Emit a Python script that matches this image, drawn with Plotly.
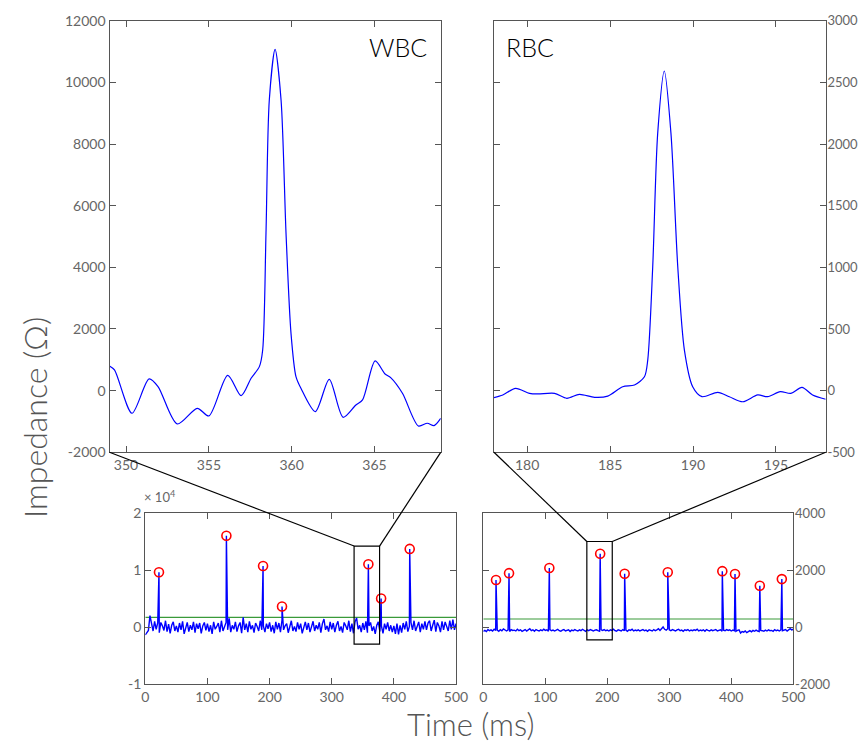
import plotly.graph_objects as go

# ---------------- data ----------------
# Top-left: WBC event detail (time ms, impedance ohm)
wbc_t = [349.0, 349.3, 350.36, 351.39, 351.93, 353.09, 354.3, 355.0, 356.14, 356.95, 357.55,
         358.05, 358.25, 358.45, 358.65, 359.0, 359.36, 359.66, 359.96, 360.26, 360.56, 361.43,
         362.27, 363.11, 363.88, 364.28, 365.04, 365.64, 365.98, 366.69, 367.65, 368.19, 368.6, 369.0]
wbc_v = [801, 671, -734, 380, 131, -1080, -572, -821, 498, -161, 401,
         779, 1320, 5100, 9427, 11070, 9427, 5100, 1860, 455, 77, -680,
         368, -864, -464, -302, 963, 541, 422, -86, -1145, -1058, -1134, -900]

# Top-right: RBC event detail
rbc_t = [177.97, 178.53, 179.3, 180.14, 180.64, 181.65, 182.39, 183.15, 184.06, 184.86, 185.76,
         186.47, 187.07, 187.27, 187.57, 187.87, 188.27, 188.67, 189.08, 189.48, 189.98, 190.54,
         191.49, 192.19, 193.0, 193.9, 194.5, 195.26, 195.9, 196.57, 197.21, 198.0]
rbc_v = [-57, -35, 19, -22, -27, -22, -62, -30, -54, -44, 32,
         46, 113, 248, 1005, 2086, 2592, 2086, 1005, 329, 32, -49,
         -14, -49, -90, -35, -49, -8, -22, 27, -35, -70]

# Bottom panels: sampled baseline every 2.5 ms from 0 to 500 ms
sample_step = 2.5
wbc_noise = [
    -1400, -1000, -600, 2000, 300, -700, 1000, -400, 700, -1000, 800, 200, -600, 1100, -800, 500, -1100, 300, 900, -700,
    200, -900, 700, -500, 1000, -1200, 100, 800, -800, 300, -500, 900, -1000, 600, -300, 700, -1100, 200, 800, -600,
    600, -800, 300, -1200, 900, -400, 100, 700, -900, 1100, -700, 200, 800, -500, 1500, -900, 300, -400, 900, -800,
    200, 800, -1100, 1700, -500, 600, -900, 1000, -400, 300, -1000, 700, 100, -700, 1100, -500, 200, -900, 600, -300,
    800, -800, 300, -1100, 900, -400, 700, -900, 1200, -500, 200, 600, -1000, 300, 1100, -700, 100, -800, 800, -400,
    600, -1100, 200, 900, -500, 700, -900, 100, 1000, -700, 300, -400, 800, -1000, 600, 1400, -500, 200, -800, 900,
    -400, 700, -900, 300, 1000, -700, 100, -1000, 800, 200, -500, 1100, -800, 600, -1100, 900, 1600, -400, 300, -900,
    700, -500, 1000, -1000, 200, 800, -700, 100, -1200, 300, 900, -800, 200, -1100, 600, -400, 800, -700, 300, -900,
    200, -1200, 600, -1300, 300, -1000, 700, -400, 1000, -800, 100, 800, -500, 1100, -700, 200, 900, -900, 600, -400,
    1000, -500, 700, 1100, -700, 300, 1200, -800, 800, 200, -900, 1000, -500, 900, 200, -700, 1100, -400, 1300, -500,
    600]
rbc_noise = [
    -150, -120, -160, -90, -130, -100, -140, -80, -120, -110, -150, -90, -130, -70, -120, -140, -100, -160, -90, -120,
    -110, -140, -80, -130, -100, -150, -120, -90, -140, -110, -60, -130, -100, -150, -90, -120, -140, -100, -130, -80,
    -120, -100, -150, -90, -130, -110, -140, -100, -80, -130, -150, -110, -90, -140, -120, -100, -160, -110, -130, -90,
    -120, -140, -100, -130, -80, -110, -150, -100, -130, -90, -120, -140, -110, -100, -130, -150, -100, -120, -90, -130,
    -110, -140, -100, -120, -80, -130, -150, -100, -120, -140, -90, -130, -110, -150, -100, -120, -80, -140, -110, -130,
    -100, -140, -120, -90, -130, -110, -150, -100, -120, -140, -90, -130, -100, -60, -120, -50, 0, -80, -110, -60,
    -100, -130, -90, -120, -140, -100, -80, -130, -110, -150, -100, -120, -90, -140, -110, -130, -100, -120, -80, -140,
    -110, -130, -100, -150, -90, -120, -140, -100, -130, -110, -90, -140, -120, -100, -150, -110, -130, -90, -120, -100,
    -140, -110, -130, -150, -120, -100, -210, -160, -180, -140, -200, -150, -130, -170, -120, -150, -110, -140, -160, -120,
    -130, -150, -110, -140, -100, -130, -120, -150, -90, -130, -110, -140, -100, -130, -120, -90, -140, -110, -60, -100,
    -80]

# detected peaks (time ms, impedance ohm)
wbc_peak_t = [22, 130.5, 189.5, 220, 359, 379.5, 425.5]
wbc_peak_v = [9600, 16000, 10700, 3600, 11000, 5000, 13700]
rbc_peak_t = [20.5, 41.5, 106.5, 188.5, 228, 297.5, 385.5, 406, 446, 481.5]
rbc_peak_v = [1650, 1890, 2070, 2570, 1870, 1920, 1960, 1860, 1450, 1680]

wbc_threshold = 1700
rbc_threshold = 280

# zoom boxes [t0, t1, v0, v1]
wbc_box = [336, 377, -3000, 14200]
rbc_box = [167, 208, -450, 3000]

# ---------------- helpers ----------------
def merge(noise, pk_t, pk_v):
    pts = [(i * sample_step, v) for i, v in enumerate(noise)]
    pts += list(zip(pk_t, pk_v))
    pts.sort()
    return [p[0] for p in pts], [p[1] for p in pts]

wbc_all_t, wbc_all_v = merge(wbc_noise, wbc_peak_t, wbc_peak_v)
rbc_all_t, rbc_all_v = merge(rbc_noise, rbc_peak_t, rbc_peak_v)

# page body has an 8px margin: work in page pixels, shifted by OFF
OFF = 8
W, H = 867 - 2 * OFF, 749 - 2 * OFF

def px(x):
    return (x - OFF) / W

def py(y):
    return 1 - (y - OFF) / H

dom = {
    "tl": ([px(109.5), px(440.7)], [py(452.3), py(20.7)]),
    "tr": ([px(494), px(825.7)], [py(452.3), py(20.7)]),
    "bl": ([px(145.3), px(456)], [py(684), py(513)]),
    "br": ([px(483.3), px(793.3)], [py(684), py(513)]),
}
rng = {
    "tl": ([349, 369], [-2000, 12000]),
    "tr": ([178, 198], [-500, 3000]),
    "bl": ([0, 500], [-10000, 20000]),
    "br": ([0, 500], [-2000, 4000]),
}

BLUE = "#0000ff"
AX = "#555555"
FONT = "Lato, Open Sans, sans-serif"

fig = go.Figure()
fig.add_trace(go.Scatter(x=wbc_t, y=wbc_v, mode="lines", line=dict(color=BLUE, width=1.2, shape="spline", smoothing=0.8),
                         xaxis="x", yaxis="y", showlegend=False))
fig.add_trace(go.Scatter(x=rbc_t, y=rbc_v, mode="lines", line=dict(color=BLUE, width=1.2, shape="spline", smoothing=0.8),
                         xaxis="x2", yaxis="y2", showlegend=False))
for ax, ay, tt, vv, pt, pv, thr in [("x3", "y3", wbc_all_t, wbc_all_v, wbc_peak_t, wbc_peak_v, wbc_threshold),
                                    ("x4", "y4", rbc_all_t, rbc_all_v, rbc_peak_t, rbc_peak_v, rbc_threshold)]:
    fig.add_trace(go.Scatter(x=[0, 500], y=[thr, thr], mode="lines", line=dict(color="#3a9a3a", width=1.2),
                             xaxis=ax, yaxis=ay, showlegend=False))
    fig.add_trace(go.Scatter(x=tt, y=vv, mode="lines", line=dict(color=BLUE, width=1.4),
                             xaxis=ax, yaxis=ay, showlegend=False))
    fig.add_trace(go.Scatter(x=pt, y=pv, mode="markers",
                             marker=dict(symbol="circle-open", color="#ff0000", size=9, line=dict(width=1.6, color="#ff0000")),
                             xaxis=ax, yaxis=ay, showlegend=False))

def axis_common():
    return dict(showline=True, linecolor=AX, linewidth=1.3, mirror="allticks", ticks="inside", ticklen=6,
                tickcolor=AX, tickwidth=1.3, showgrid=False, zeroline=False, automargin=False,
                tickfont=dict(family=FONT, size=14, color="#666666"))

names = {"tl": ("xaxis", "yaxis", "y", "x"), "tr": ("xaxis2", "yaxis2", "y2", "x2"),
         "bl": ("xaxis3", "yaxis3", "y3", "x3"), "br": ("xaxis4", "yaxis4", "y4", "x4")}
tick_x = {"tl": [350, 355, 360, 365], "tr": [180, 185, 190, 195],
          "bl": [0, 100, 200, 300, 400, 500], "br": [0, 100, 200, 300, 400, 500]}
tick_y = {"tl": [-2000, 0, 2000, 4000, 6000, 8000, 10000, 12000],
          "tr": [-500, 0, 500, 1000, 1500, 2000, 2500, 3000],
          "bl": [-10000, 0, 10000, 20000],
          "br": [-2000, 0, 2000, 4000]}
ytext = {"bl": ["-1", "0", "1", "2"]}
lay = {}
for k, (xn, yn, ya, xa) in names.items():
    xa_d = axis_common()
    xa_d.update(domain=dom[k][0], range=rng[k][0], anchor=ya, tickvals=tick_x[k],
                ticktext=[str(v) for v in tick_x[k]])
    ya_d = axis_common()
    ya_d.update(domain=dom[k][1], range=rng[k][1], anchor=xa, tickvals=tick_y[k],
                ticktext=ytext.get(k, [str(v) for v in tick_y[k]]),
                side="right" if k in ("tr", "br") else "left")
    if k in ("tr", "br"):
        ya_d["tickfont"] = dict(family=FONT, size=13, color="#666666")
        ya_d["ticklabelstandoff"] = -2
    lay[xn] = xa_d
    lay[yn] = ya_d

def to_paper(k, axis, v):
    d = dom[k][axis]
    r = rng[k][axis]
    return d[0] + (v - r[0]) / (r[1] - r[0]) * (d[1] - d[0])

shapes = []
for top, bot, box in [("tl", "bl", wbc_box), ("tr", "br", rbc_box)]:
    xref = names[bot][3]
    yref = names[bot][2]
    shapes.append(dict(type="rect", xref=xref, yref=yref, x0=box[0], x1=box[1], y0=box[2], y1=box[3],
                       line=dict(color="black", width=1.2), layer="above"))
    bx0, bx1 = to_paper(bot, 0, box[0]), to_paper(bot, 0, box[1])
    by1 = to_paper(bot, 1, box[3])
    px0, px1 = dom[top][0]
    py0 = dom[top][1][0]
    shapes.append(dict(type="line", xref="paper", yref="paper", x0=px0, y0=py0, x1=bx0, y1=by1,
                       line=dict(color="black", width=1.2)))
    shapes.append(dict(type="line", xref="paper", yref="paper", x0=px1, y0=py0, x1=bx1, y1=by1,
                       line=dict(color="black", width=1.2)))

annotations = [
    dict(text="WBC", xref="paper", yref="paper", x=px(398), y=py(47), showarrow=False,
         xanchor="center", yanchor="middle",
         font=dict(family=FONT, size=25, color="black", weight=300)),
    dict(text="RBC", xref="paper", yref="paper", x=px(530), y=py(47), showarrow=False,
         xanchor="center", yanchor="middle",
         font=dict(family=FONT, size=25, color="black", weight=300)),
    dict(text="× 10<sup>4</sup>", xref="paper", yref="paper", x=px(142), y=py(496), showarrow=False,
         xanchor="left", yanchor="middle", font=dict(family=FONT, size=13, color="#666666")),
    dict(text="Impedance (Ω)", xref="paper", yref="paper", x=px(34), y=py(418), showarrow=False,
         xanchor="center", yanchor="middle",
         textangle=-90, font=dict(family=FONT, size=32, color=AX, weight=300)),
    dict(text="Time (ms)", xref="paper", yref="paper", x=px(470), y=py(724), showarrow=False,
         xanchor="center", yanchor="middle",
         font=dict(family=FONT, size=31, color=AX, weight=300)),
]

fig.update_layout(width=W, height=H, margin=dict(l=0, r=0, t=0, b=0),
                  paper_bgcolor="white", plot_bgcolor="white",
                  shapes=shapes, annotations=annotations, **lay)

fig.write_html("out.html")
